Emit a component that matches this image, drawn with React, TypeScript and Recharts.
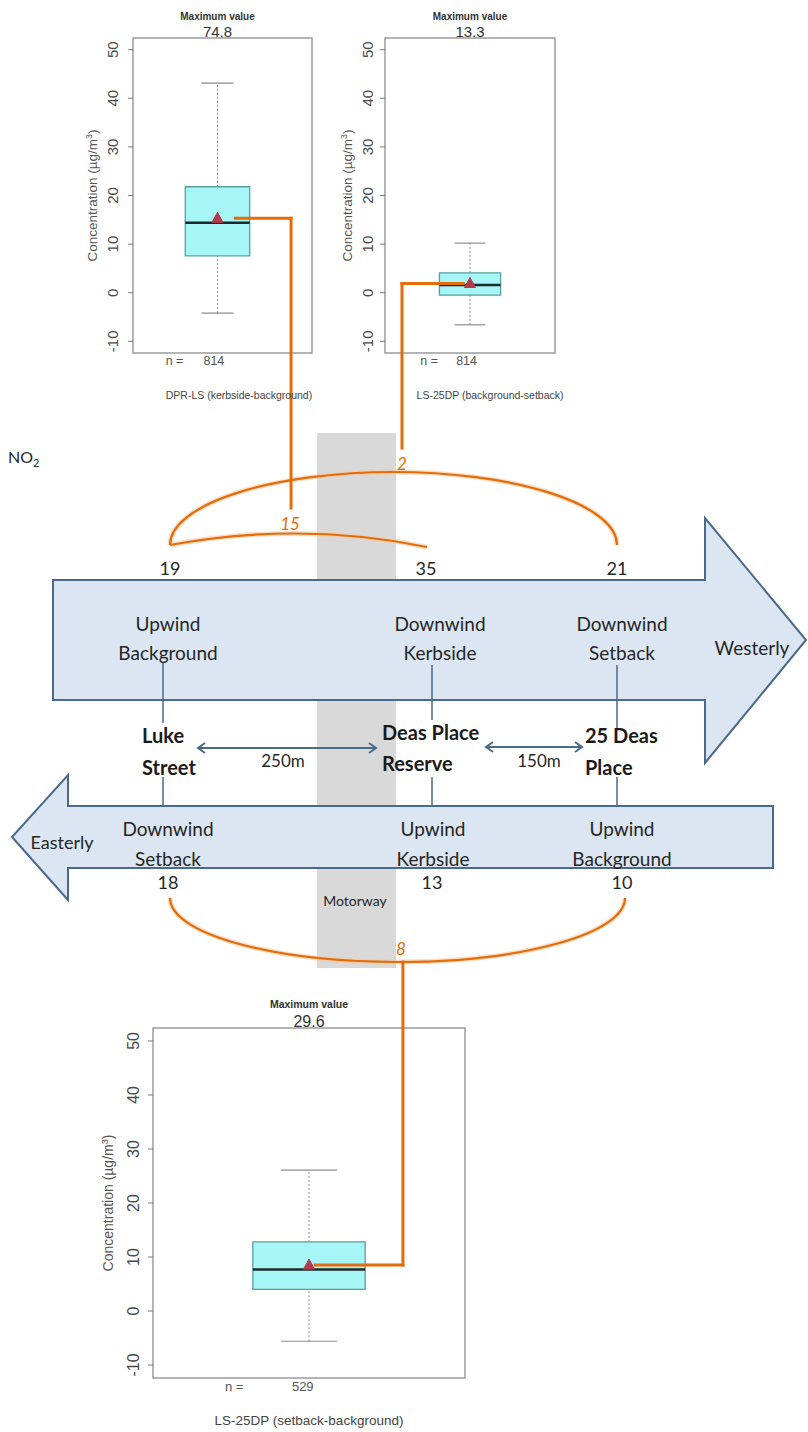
import React from 'react';
import { ComposedChart, XAxis, YAxis, ReferenceArea, ReferenceLine, ReferenceDot, Scatter } from 'recharts';

// ---- Box plot data (NO2 concentration differences, µg/m³) ----
const boxNames = ['DPR-LS (kerbside-background)', 'LS-25DP (background-setback)', 'LS-25DP (setback-background)'];
const maxValues = ['74.8', '13.3', '29.6'];
const counts = ['814', '814', '529'];
const whiskerLow = [-4.2, -6.6, -5.6];
const q1Values = [7.6, -0.5, 4.0];
const medianValues = [14.4, 1.6, 7.7];
const meanValues = [15.3, 1.9, 8.5];
const q3Values = [21.8, 4.1, 12.8];
const whiskerHigh = [43.1, 10.2, 26.1];
const yTicks = [-10, 0, 10, 20, 30, 40, 50];

// ---- Diagram labels / values ----
const westSites = [['Upwind', 'Background'], ['Downwind', 'Kerbside'], ['Downwind', 'Setback']];
const westValues = ['19', '35', '21'];
const eastSites = [['Downwind', 'Setback'], ['Upwind', 'Kerbside'], ['Upwind', 'Background']];
const eastValues = ['18', '13', '10'];
const diffValues = ['15', '2', '8'];
const siteNames = [['Luke', 'Street'], ['Deas Place', 'Reserve'], ['25 Deas', 'Place']];
const distances = ['250m', '150m'];

const CHART_FONT = "'Liberation Sans', Arial, Helvetica, sans-serif";
const DIAG_FONT = "Lato, 'Open Sans', 'Noto Sans', sans-serif";
const Y_MIN = -12.4;
const Y_MAX = 52.4;
const ORANGE = '#e46c0a';
const BLUE = '#4a6a8c';

const layouts = [
  { left: 80, top: 0, width: 240, height: 530, margin: { top: 38, right: 8, bottom: 177, left: 5 }, xDomain: [0.528, 1.528],
    tickFs: 15, tickOff: 13, ylabFs: 13.5, ylabOff: 41, headFs: 10, maxFs: 15, headDy: [-22, -7], nFs: 12.5, xlabFs: 10.5, xlabX: 1.12,
    conn: { start: 1.1, x: 1.411, end: -44.3 } },
  { left: 322, top: 0, width: 245, height: 470, margin: { top: 38, right: 12, bottom: 117, left: 15 }, xDomain: [0.5, 1.5],
    tickFs: 15, tickOff: 10, ylabFs: 13.5, ylabOff: 38, headFs: 10, maxFs: 15, headDy: [-22, -7], nFs: 12.5, xlabFs: 10.5, xlabX: 1.118,
    conn: { start: 0.96, x: 0.6, end: -31.95 } },
  { left: 95, top: 940, width: 385, height: 492, margin: { top: 88, right: 15, bottom: 54, left: 10 }, xDomain: [0.5, 1.5],
    tickFs: 16, tickOff: 13, ylabFs: 14, ylabOff: 45, headFs: 10.5, maxFs: 16, headDy: [-24, -7], nFs: 13, xlabFs: 13.5, xlabX: 1.0,
    conn: { start: 1.02, x: 1.301, end: 64.6 } },
];

function BoxChart({ i }: { i: number }) {
  const L: any = layouts[i];
  const hw = 0.18;
  const cw = 0.09;
  const whisk = '#8c8c8c';
  return (
    <div style={{ position: 'absolute', left: L.left, top: L.top }}>
      <ComposedChart width={L.width} height={L.height} margin={L.margin} style={{ fontFamily: CHART_FONT }}>
        <XAxis type="number" dataKey="x" domain={L.xDomain} hide allowDataOverflow />
        <YAxis
          type="number"
          domain={[Y_MIN, Y_MAX]}
          ticks={yTicks}
          allowDataOverflow
          width={48}
          axisLine={false}
          tickSize={5}
          tickLine={{ stroke: '#7a7a7a' }}
          tick={(p: any) => (
            <text
              transform={`translate(${p.x - L.tickOff},${p.y}) rotate(-90)`}
              textAnchor="middle"
              dy="0.35em"
              fontSize={L.tickFs}
              fill="#4a4a4a"
              fontFamily={CHART_FONT}
            >
              {p.payload.value}
            </text>
          )}
        />
        {/* plot frame */}
        <ReferenceArea x1={L.xDomain[0]} x2={L.xDomain[1]} y1={Y_MIN} y2={Y_MAX} fill="none" fillOpacity={0} stroke="#9c9c9c" strokeWidth={1.5} ifOverflow="visible" />
        {/* whiskers */}
        <ReferenceLine segment={[{ x: 1, y: q3Values[i] }, { x: 1, y: whiskerHigh[i] }]} stroke={whisk} strokeDasharray="2 2" ifOverflow="visible" />
        <ReferenceLine segment={[{ x: 1, y: whiskerLow[i] }, { x: 1, y: q1Values[i] }]} stroke={whisk} strokeDasharray="2 2" ifOverflow="visible" />
        <ReferenceLine segment={[{ x: 1 - cw, y: whiskerHigh[i] }, { x: 1 + cw, y: whiskerHigh[i] }]} stroke={whisk} strokeWidth={1.2} ifOverflow="visible" />
        <ReferenceLine segment={[{ x: 1 - cw, y: whiskerLow[i] }, { x: 1 + cw, y: whiskerLow[i] }]} stroke={whisk} strokeWidth={1.2} ifOverflow="visible" />
        {/* box */}
        <ReferenceArea x1={1 - hw} x2={1 + hw} y1={q1Values[i]} y2={q3Values[i]} fill="#a6f5f7" fillOpacity={1} stroke="#5a9fa2" strokeWidth={1.3} ifOverflow="visible" />
        <ReferenceLine segment={[{ x: 1 - hw, y: medianValues[i] }, { x: 1 + hw, y: medianValues[i] }]} stroke="#1b2b2b" strokeWidth={2.5} ifOverflow="visible" />
        {/* mean */}
        <Scatter
          data={[{ x: 1, y: meanValues[i] }]}
          dataKey="y"
          isAnimationActive={false}
          shape={(p: any) => (
            <polygon points={`${p.cx},${p.cy - 6} ${p.cx - 5.5},${p.cy + 4} ${p.cx + 5.5},${p.cy + 4}`} fill="#b5394c" stroke="#b5394c" strokeWidth={1} />
          )}
        />
        {/* orange connector to the diagram */}
        <ReferenceLine segment={[{ x: L.conn.start, y: meanValues[i] }, { x: L.conn.x, y: meanValues[i] }]} stroke={ORANGE} strokeWidth={3} strokeLinecap="square" ifOverflow="visible" />
        <ReferenceLine segment={[{ x: L.conn.x, y: meanValues[i] }, { x: L.conn.x, y: L.conn.end }]} stroke={ORANGE} strokeWidth={3} strokeLinecap="square" ifOverflow="visible" />
        {/* header: maximum value */}
        <ReferenceDot
          x={1}
          y={Y_MAX}
          r={1}
          ifOverflow="visible"
          shape={(p: any) => (
            <g fontFamily={CHART_FONT}>
              <text x={p.cx} y={p.cy + L.headDy[0]} textAnchor="middle" dominantBaseline="central" fontSize={L.headFs} fontWeight="bold" fill="#333">Maximum value</text>
              <text x={p.cx} y={p.cy + L.headDy[1]} textAnchor="middle" dominantBaseline="central" fontSize={L.maxFs} fill="#333">{maxValues[i]}</text>
            </g>
          )}
        />
        {/* y axis title */}
        <ReferenceDot
          x={L.xDomain[0]}
          y={(Y_MIN + Y_MAX) / 2}
          r={1}
          ifOverflow="visible"
          shape={(p: any) => (
            <text transform={`translate(${p.cx - L.ylabOff},${p.cy}) rotate(-90)`} textAnchor="middle" dy="0.35em" fontSize={L.ylabFs} fill="#555" fontFamily={CHART_FONT}>
              Concentration (µg/m<tspan dy={-5} fontSize={L.ylabFs * 0.65}>3</tspan><tspan dy={5}>)</tspan>
            </text>
          )}
        />
        {/* n = count */}
        <ReferenceDot
          x={0.76}
          y={Y_MIN}
          r={1}
          ifOverflow="visible"
          shape={(p: any) => (
            <text x={p.cx} y={p.cy + 8} textAnchor="middle" dominantBaseline="central" fontSize={L.nFs} fill="#555" fontFamily={CHART_FONT}>n =</text>
          )}
        />
        <ReferenceDot
          x={0.98}
          y={Y_MIN}
          r={1}
          ifOverflow="visible"
          shape={(p: any) => (
            <text x={p.cx} y={p.cy + 8} textAnchor="middle" dominantBaseline="central" fontSize={L.nFs} fill="#555" fontFamily={CHART_FONT}>{counts[i]}</text>
          )}
        />
        {/* x title */}
        <ReferenceDot
          x={L.xlabX}
          y={Y_MIN}
          r={1}
          ifOverflow="visible"
          shape={(p: any) => (
            <text x={p.cx} y={p.cy + 42} textAnchor="middle" dominantBaseline="central" fontSize={L.xlabFs} fill="#444" fontFamily={CHART_FONT}>{boxNames[i]}</text>
          )}
        />
      </ComposedChart>
    </div>
  );
}

function Diagram() {
  const westX = [168, 440, 622];
  const eastX = [168, 433, 622];
  const topValX = [170, 426, 617];
  const botValX = [168, 432, 622];
  const siteX = [142, 382, 585];
  const siteY = [[735, 767], [732, 763], [735, 767]];
  const conX = [163, 432, 617];
  const conTop = [[663, 723], [665, 720], [665, 730]];
  const textStyle = { fontFamily: DIAG_FONT, fill: '#262626' } as any;
  return (
    <svg width={808} height={1432} style={{ position: 'absolute', left: 0, top: 0 }}>
      {/* motorway band */}
      <rect x={317} y={433} width={79} height={535} fill="#d9d9d9" />
      <text x={8} y={463} fontSize={16} {...textStyle}>NO<tspan fontSize={11} dy={4}>2</tspan></text>

      {/* upper arcs */}
      <path d="M170,545 A223.5,73 0 0 1 617,545" fill="none" stroke="#f6c9a0" strokeWidth={5} opacity={0.6} />
      <path d="M170,545 Q300,521 427,547" fill="none" stroke="#f6c9a0" strokeWidth={5} opacity={0.6} />
      <path d="M170,545 A223.5,73 0 0 1 617,545" fill="none" stroke={ORANGE} strokeWidth={2.2} />
      <path d="M170,545 Q300,521 427,547" fill="none" stroke={ORANGE} strokeWidth={2.2} />
      <text x={290} y={523} fontSize={17} fontStyle="italic" textAnchor="middle" dominantBaseline="central" fill={ORANGE} fontFamily={DIAG_FONT}>{diffValues[0]}</text>
      <text x={402} y={463} fontSize={17} fontStyle="italic" textAnchor="middle" dominantBaseline="central" fill={ORANGE} fontFamily={DIAG_FONT}>{diffValues[1]}</text>

      {topValX.map((x, k) => (
        <text key={'tv' + k} x={x} y={568} fontSize={18} textAnchor="middle" dominantBaseline="central" {...textStyle}>{westValues[k]}</text>
      ))}

      {/* westerly arrow */}
      <polygon points="53,580 705,580 705,518 806,640 705,763 705,700 53,700" fill="#dce6f2" stroke={BLUE} strokeWidth={2} />
      {westSites.map((s, k) => (
        <g key={'ws' + k}>
          <text x={westX[k]} y={623} fontSize={19} textAnchor="middle" dominantBaseline="central" {...textStyle}>{s[0]}</text>
          <text x={westX[k]} y={652} fontSize={19} textAnchor="middle" dominantBaseline="central" {...textStyle}>{s[1]}</text>
        </g>
      ))}
      <text x={752} y={647} fontSize={19} textAnchor="middle" dominantBaseline="central" {...textStyle}>Westerly</text>

      {/* connectors from sites */}
      {conX.map((x, k) => (
        <g key={'cx' + k}>
          <line x1={x} y1={conTop[k][0]} x2={x} y2={conTop[k][1]} stroke={BLUE} strokeWidth={1.5} />
          <line x1={x} y1={777} x2={x} y2={820} stroke={BLUE} strokeWidth={1.5} />
        </g>
      ))}

      {/* site names */}
      {siteNames.map((s, k) => (
        <g key={'sn' + k}>
          <text x={siteX[k]} y={siteY[k][0]} fontSize={20} fontWeight="bold" dominantBaseline="central" fontFamily={DIAG_FONT} fill="#1a1a1a">{s[0]}</text>
          <text x={siteX[k]} y={siteY[k][1]} fontSize={20} fontWeight="bold" dominantBaseline="central" fontFamily={DIAG_FONT} fill="#1a1a1a">{s[1]}</text>
        </g>
      ))}

      {/* distance arrows */}
      <line x1={198} y1={748} x2={376} y2={748} stroke={BLUE} strokeWidth={2} />
      <polyline points="205,743 198,748 205,753" fill="none" stroke={BLUE} strokeWidth={2} />
      <polyline points="369,743 376,748 369,753" fill="none" stroke={BLUE} strokeWidth={2} />
      <text x={283} y={760} fontSize={17} textAnchor="middle" dominantBaseline="central" {...textStyle}>{distances[0]}</text>
      <line x1={486} y1={747} x2={582} y2={747} stroke={BLUE} strokeWidth={2} />
      <polyline points="493,742 486,747 493,752" fill="none" stroke={BLUE} strokeWidth={2} />
      <polyline points="575,742 582,747 575,752" fill="none" stroke={BLUE} strokeWidth={2} />
      <text x={539} y={760} fontSize={17} textAnchor="middle" dominantBaseline="central" {...textStyle}>{distances[1]}</text>

      {/* easterly arrow */}
      <polygon points="773,806 68,806 68,775 12,837 68,900 68,868 773,868" fill="#dce6f2" stroke={BLUE} strokeWidth={2} />
      {eastSites.map((s, k) => (
        <g key={'es' + k}>
          <text x={eastX[k]} y={828} fontSize={19} textAnchor="middle" dominantBaseline="central" {...textStyle}>{s[0]}</text>
          <text x={eastX[k]} y={858} fontSize={19} textAnchor="middle" dominantBaseline="central" {...textStyle}>{s[1]}</text>
        </g>
      ))}
      <text x={62} y={842} fontSize={18} textAnchor="middle" dominantBaseline="central" {...textStyle}>Easterly</text>
      {botValX.map((x, k) => (
        <text key={'bv' + k} x={x} y={882} fontSize={18} textAnchor="middle" dominantBaseline="central" {...textStyle}>{eastValues[k]}</text>
      ))}
      <text x={355} y={900} fontSize={14} textAnchor="middle" dominantBaseline="central" {...textStyle}>Motorway</text>

      {/* lower arc */}
      <path d="M170,898 A227.5,64 0 0 0 625,898" fill="none" stroke="#f6c9a0" strokeWidth={5} opacity={0.6} />
      <path d="M170,898 A227.5,64 0 0 0 625,898" fill="none" stroke={ORANGE} strokeWidth={2.2} />
      <text x={401} y={948} fontSize={17} fontStyle="italic" textAnchor="middle" dominantBaseline="central" fill={ORANGE} fontFamily={DIAG_FONT}>{diffValues[2]}</text>
    </svg>
  );
}

export default function App() {
  return (
    <div style={{ position: 'absolute', left: 0, top: 0, width: 808, height: 1432, background: '#ffffff', overflow: 'hidden' }}>
      <Diagram />
      <BoxChart i={0} />
      <BoxChart i={1} />
      <BoxChart i={2} />
    </div>
  );
}
